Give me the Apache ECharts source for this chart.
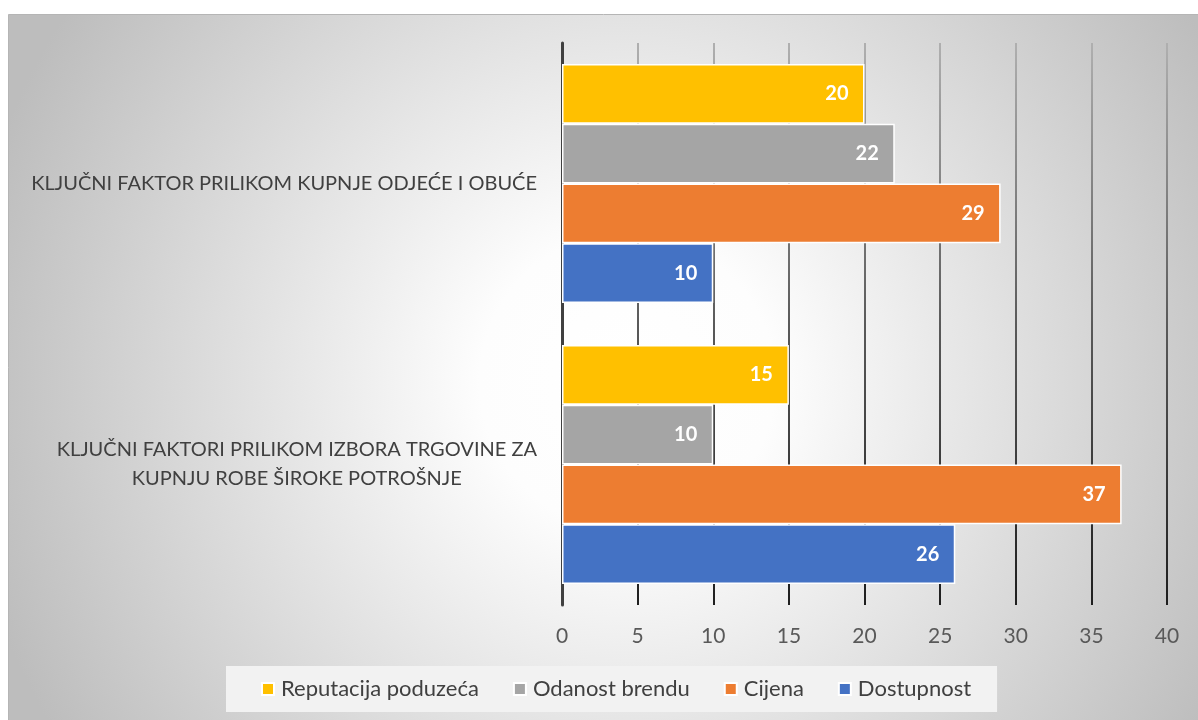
<!DOCTYPE html>
<html>
<head>
<meta charset="utf-8">
<script src="https://cdn.jsdelivr.net/npm/echarts@6/dist/echarts.min.js"></script>
<style>
html,body{margin:0;padding:0;background:#fff;}
#chart{width:1198px;height:720px;}
</style>
</head>
<body>
<div id="chart"></div>
<script>
const categories = [
  'KLJUČNI FAKTOR PRILIKOM KUPNJE ODJEĆE I OBUĆE',
  'KLJUČNI FAKTORI PRILIKOM IZBORA TRGOVINE ZA\nKUPNJU ROBE ŠIROKE POTROŠNJE'
];
const seriesNames = ['Reputacija poduzeća', 'Odanost brendu', 'Cijena', 'Dostupnost'];
const reputacija = [20, 15];
const odanost = [22, 10];
const cijena = [29, 37];
const dostupnost = [10, 26];
const xTicks = [0, 5, 10, 15, 20, 25, 30, 35, 40];

const colors = ['#FFC000', '#A5A5A5', '#ED7D31', '#4472C4'];
const values = [reputacija, odanost, cijena, dostupnost];
const FONT = 'Lato';

const chart = echarts.init(document.getElementById('chart'), null, {renderer: 'canvas'});

const option = {
  backgroundColor: '#ffffff',
  animation: false,
  textStyle: {fontFamily: FONT},
  graphic: {
    elements: [{
      type: 'rect',
      z: -100,
      silent: true,
      shape: {x: 8.5, y: 14.5, width: 1190, height: 706},
      style: {
        fill: new echarts.graphic.RadialGradient(0.52, 0.52, 0.95, [
          {offset: 0, color: '#ffffff'},
          {offset: 0.22, color: '#fdfdfd'},
          {offset: 1, color: '#bdbdbd'}
        ]),
        stroke: '#b5b5b5',
        lineWidth: 1
      }
    }]
  },
  grid: {left: 562, right: 31, top: 43, bottom: 115, containLabel: false},
  xAxis: {
    type: 'value',
    min: xTicks[0],
    max: xTicks[xTicks.length - 1],
    interval: xTicks[1] - xTicks[0],
    axisLine: {show: false},
    axisTick: {show: false},
    axisLabel: {color: '#595959', fontSize: 21, fontFamily: FONT, margin: 21},
    splitLine: {
      show: true,
      lineStyle: {
        width: 2,
        color: new echarts.graphic.LinearGradient(0, 0, 0, 1, [
          {offset: 0, color: '#b0b0b0'},
          {offset: 0.5, color: '#5a5a5a'},
          {offset: 1, color: '#1e1e1e'}
        ])
      }
    }
  },
  yAxis: {
    type: 'category',
    inverse: true,
    data: categories,
    axisLine: {show: true, lineStyle: {color: '#404040', width: 3}},
    axisTick: {show: false},
    axisLabel: {
      margin: 25,
      formatter: function (v) {
        return v.split('\n').map(function (l) { return '{a|' + l + '}'; }).join('\n');
      },
      rich: {
        a: {align: 'center', fontSize: 20, color: '#404040', fontFamily: FONT, lineHeight: 29}
      }
    }
  },
  legend: {
    data: seriesNames,
    left: 226,
    top: 666,
    backgroundColor: '#f2f2f2',
    padding: [12, 26, 12, 35],
    itemWidth: 12,
    itemHeight: 12,
    itemGap: 34,
    icon: 'rect',
    textStyle: {color: '#404040', fontSize: 22, fontFamily: FONT, padding: [0, 0, 0, 2]}
  },
  series: seriesNames.map(function (name, i) {
    return {
      name: name,
      type: 'bar',
      data: values[i],
      barGap: '0%',
      barCategoryGap: '15%',
      itemStyle: {color: colors[i], borderColor: '#ffffff', borderWidth: 1.5},
      label: {
        show: true,
        position: 'insideRight',
        distance: 16,
        color: '#ffffff',
        fontWeight: 'bold',
        fontSize: 20,
        fontFamily: FONT
      }
    };
  })
};

chart.setOption(option);
</script>
</body>
</html>
